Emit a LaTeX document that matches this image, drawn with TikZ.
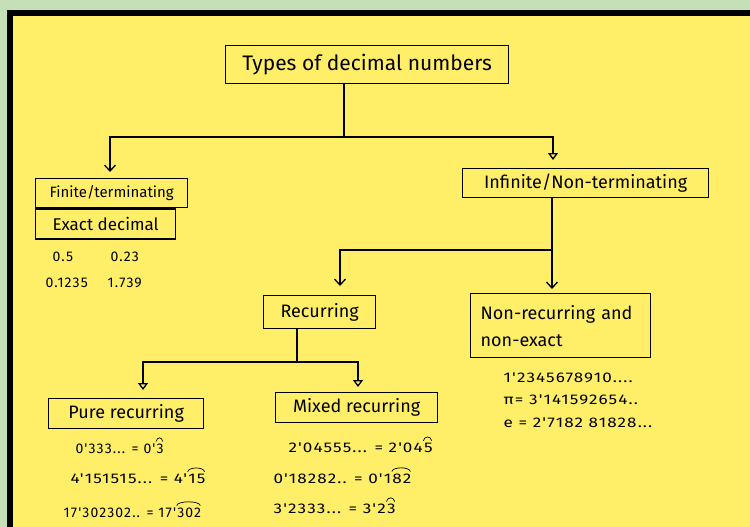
\documentclass[tikz,border=0pt]{standalone}
\usepackage{fontspec}
\setmainfont{Fira Sans}
\newfontfamily\numfont[LetterSpace=8]{Fira Sans}
\newfontfamily\widenum[LetterSpace=8, FakeStretch=1.22]{Fira Sans}
\usetikzlibrary{arrows.meta,positioning}
\definecolor{paper}{RGB}{255,239,104}
\definecolor{leaf}{RGB}{197,224,182}
\newcommand{\sz}[1]{\fontsize{#1}{#1}\selectfont}

\begin{document}
\begin{tikzpicture}[x=1pt, y=-1pt, line width=1.3pt,
    main/.style = {draw, line width=1.3pt, inner sep=0pt, anchor=north west},
    num/.style = {anchor=west, inner sep=0pt, font=\numfont\sz{14}},
    wide/.style = {num, font=\widenum\sz{14}},
    period/.style = {inner sep=0pt, anchor=base west},
    arcline/.style = {line width=0.7pt},
    barb/.style = {-{Straight Barb[length=6pt,width=11pt]}},
    tri/.style = {-{Triangle[open,length=7pt,width=10pt]}}]
    \useasboundingbox (0,0) rectangle (750,527);
    % paper
    \fill[leaf] (0,0) rectangle (750,527);
    \fill[black] (7,10) rectangle (750,527);
    \fill[paper] (13,16) rectangle (750,527);
    % boxes
    \node[main, minimum width=283pt, minimum height=38pt, font=\sz{21}] (1) at (225,45) {Types of decimal numbers};
    \node[main, minimum width=152pt, minimum height=29pt, font=\sz{15}] (2) at (35,178) {Finite/terminating};
    \node[main, minimum width=140pt, minimum height=30pt, font=\sz{17}] (3) at (2.south west) {Exact decimal};
    \node[main, minimum width=246pt, minimum height=29pt, font=\sz{18}] (4) at (462,168) {Infinite/Non-terminating};
    \node[main, minimum width=112pt, minimum height=33pt, font=\sz{18}] (5) at (263,295) {Recurring};
    \node[main, minimum width=180pt, minimum height=64pt, font=\sz{18}, align=left, text width=160pt] (6) at (470,293) {Non-recurring and\\[9pt]non-exact};
    \node[main, minimum width=155pt, minimum height=30pt, font=\sz{18}] (7) at (48,398) {Pure recurring};
    \node[main, minimum width=162pt, minimum height=30pt, font=\sz{18}] (8) at (275,392) {Mixed recurring};
    % joints and arrow ends
    \coordinate (j1) at (344,137);
    \coordinate (j2) at (552,250);
    \coordinate (j3) at (297,362);
    \coordinate (t2) at (110,172);
    \coordinate (t4) at (553,160);
    \coordinate (t5) at (340,286);
    \coordinate (t6) at (552,289);
    \coordinate (t7) at (143,390);
    \coordinate (t8) at (358,387);
    \draw (1.south -| j1) -- (j1);
    \draw[barb] (j1) -| (t2);
    \draw[tri] (j1) -| (t4);
    \draw[barb] (4.south -| j2) -- (t6);
    \draw[barb] (j2) -| (t5);
    \draw (5.south -| j3) -- (j3);
    \draw[tri] (j3) -| (t7);
    \draw[tri] (j3) -| (t8);
    % finite
    \node[num] (n1) at (52,257) {0.5};
    \node[num] (n2) at (110,257) {0.23};
    \node[num] (n3) at (45,283) {0.1235};
    \node[num] (n4) at (107,283) {1.739};
    % non-recurring
    \node[wide] (n5) at (503,378) {1'2345678910....};
    \node[wide] (n6) at (503,400) {π= 3'141592654..};
    \node[wide] (n7) at (503,423) {e = 2'7182 81828...};
    % pure
    \node[num] (n8) at (75,449) {0'333... = 0'};
    \node[num, period] (r8) at (n8.base east) {3};
    \node[wide] (n9) at (70,479) {4'151515... = 4'};
    \node[wide, period] (r9) at (n9.base east) {15};
    \node[num] (n10) at (63,513) {17'302302.. = 17'};
    \node[num, period] (r10) at (n10.base east) {302};
    % mixed
    \node[wide] (n11) at (288,448) {2'04555... = 2'04};
    \node[wide, period] (r11) at (n11.base east) {5};
    \node[wide] (n12) at (273,479) {0'18282.. = 0'1};
    \node[wide, period] (r12) at (n12.base east) {82};
    \node[wide] (n13) at (273,509) {3'2333... = 3'2};
    \node[wide, period] (r13) at (n13.base east) {3};
    % arcs over the repeating digits
    \foreach \r in {r8,r9,r10,r11,r12,r13}
        \draw[arcline] ([yshift=2pt]\r.north west) .. controls +(1pt,5pt) and +(-1pt,5pt) .. ([yshift=2pt,xshift=-1.5pt]\r.north east);
\end{tikzpicture}
\end{document}
